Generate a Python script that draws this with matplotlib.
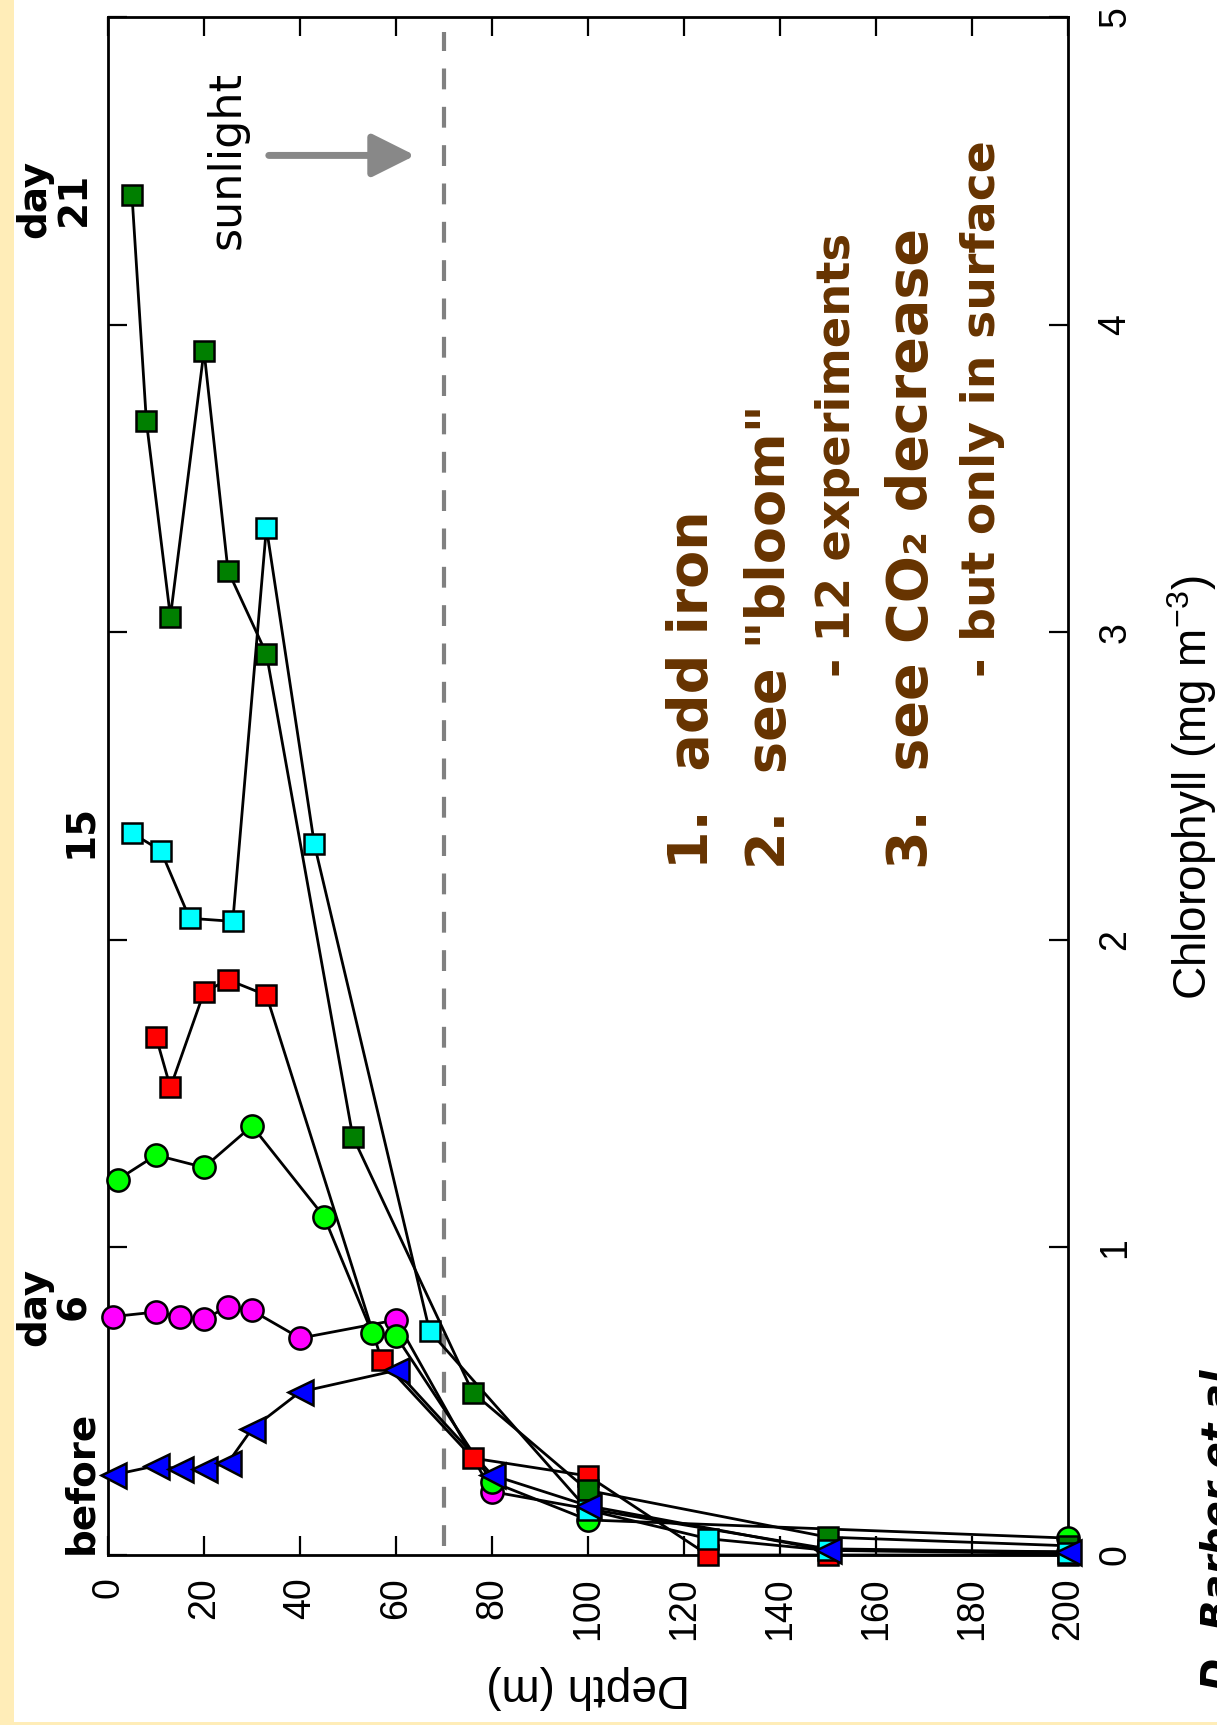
import matplotlib
matplotlib.use("Agg")
import matplotlib.pyplot as plt
from matplotlib.patches import Rectangle

# ── data: depth (m) vs chlorophyll (mg m-3) ──────────────────────────────────
before_depth = [1, 10, 15, 20, 25, 30, 40, 60, 80, 100, 150, 200]
before_chl = [0.26, 0.29, 0.28, 0.28, 0.30, 0.41, 0.53, 0.60, 0.26, 0.16, 0.015, 0.01]

day6_depth = [1, 10, 15, 20, 25, 30, 40, 60, 80, 100, 150, 200]
day6_chl = [0.775, 0.79, 0.775, 0.767, 0.807, 0.795, 0.705, 0.764, 0.206, 0.15, 0.02, 0.01]

day9_depth = [2, 10, 20, 30, 45, 55, 60, 80, 100, 200]
day9_chl = [1.22, 1.30, 1.26, 1.395, 1.10, 0.723, 0.712, 0.238, 0.114, 0.055]

day12_depth = [10, 13, 20, 25, 33, 57, 76, 100, 125, 150, 200]
day12_chl = [1.685, 1.52, 1.83, 1.87, 1.82, 0.634, 0.315, 0.257, 0.0, 0.0, 0.0]

day15_depth = [5, 11, 17, 26, 33, 43, 67, 100, 125, 150, 200]
day15_chl = [2.347, 2.29, 2.07, 2.06, 3.34, 2.31, 0.728, 0.146, 0.053, 0.015, 0.005]

day21_depth = [5, 8, 13, 20, 25, 33, 51, 76, 100, 150, 200]
day21_chl = [4.42, 3.685, 3.05, 3.915, 3.20, 2.93, 1.36, 0.528, 0.21, 0.058, 0.03]

mixed_layer = 70          # dashed line depth
depth_ticks = list(range(0, 201, 20))
chl_ticks = [0, 1, 2, 3, 4, 5]

W, H = 1217, 1725


def fx(x):
    return x / W


def fy(y):
    return 1 - y / H


fig = plt.figure(figsize=(W / 100, H / 100), dpi=100, facecolor="#FFEDB8")
fig.patches.append(Rectangle((fx(14), fy(1722)), 1 - fx(14), fy(0) - fy(1722),
                             transform=fig.transFigure, facecolor="white",
                             edgecolor="none", zorder=-5))

plt.rcParams["mathtext.fontset"] = "custom"
plt.rcParams["mathtext.rm"] = "Liberation Sans"

ax = fig.add_axes([fx(108), fy(1555), fx(1068) - fx(108), fy(17) - fy(1555)])
ax.set_facecolor("none")
ax.set_xlim(0, 200)
ax.set_ylim(0, 5)

# series: (depth, chl, marker, colour, size)
series = [
    (day6_depth, day6_chl, "o", "#FF00FF", 16),
    (day9_depth, day9_chl, "o", "#00FF00", 16),
    (day12_depth, day12_chl, "s", "#FF0000", 14.5),
    (day21_depth, day21_chl, "s", "#007F00", 14.5),
    (day15_depth, day15_chl, "s", "#00FFFF", 14.5),
    (before_depth, before_chl, "<", "#0000FF", 18),
]
for d, c, m, col, ms in series:
    ax.plot(d, c, "-", color="black", lw=2.0, zorder=3, clip_on=False)
for i, (d, c, m, col, ms) in enumerate(series):
    ax.plot(d, c, linestyle="none", marker=m, ms=ms, mfc=col, mec="black",
            mew=1.8, zorder=4 + i, clip_on=False)

ax.plot([mixed_layer, mixed_layer], [0.03, 4.95], color="#808080", lw=3,
        linestyle=(0, (5, 4.2)), zorder=2)

# sunlight arrow
ax.annotate("", xy=(64, 4.55), xytext=(33.5, 4.55),
            arrowprops=dict(arrowstyle="-|>", color="#888888", lw=5,
                            mutation_scale=66, shrinkA=0, shrinkB=0))
ax.text(24.8, 4.535, "sunlight", rotation=90, ha="center", va="center",
        fontsize=32, family="DejaVu Sans")

# axes styling
for s in ax.spines.values():
    s.set_linewidth(2.0)
ax.set_xticks(depth_ticks)
ax.set_yticks(chl_ticks)
ax.tick_params(direction="in", length=14, width=1.6, top=True, bottom=True,
               left=True, right=True, labelleft=False, labelright=True,
               labelbottom=True)
ax.tick_params(axis="x", pad=16)
ax.tick_params(axis="y", pad=21)
for lab in ax.get_xticklabels():
    lab.set_rotation(90)
    lab.set_fontsize(27)
    lab.set_family("Liberation Sans")
for lab in ax.get_yticklabels():
    lab.set_rotation(90)
    lab.set_fontsize(27)
    lab.set_family("Liberation Sans")
    lab.set_verticalalignment("center")

fig.text(fx(588), fy(1675), "Depth (m)", rotation=180, rotation_mode="anchor",
         ha="center", va="baseline", fontsize=33, family="Liberation Sans")
fig.text(fx(1207), fy(788), "Chlorophyll (mg m$^{-3}$)", rotation=90,
         rotation_mode="anchor", ha="center", va="baseline", fontsize=33,
         family="Liberation Sans")

# day labels left of the axis
lab_kw = dict(rotation=90, ha="center", va="center", fontsize=28,
              fontweight="bold", family="DejaVu Sans", linespacing=1.05)
fig.text(fx(81), fy(1482), "before", **lab_kw)
fig.text(fx(54), fy(1307), "day\n6", **lab_kw)
fig.text(fx(80), fy(831), "15", **lab_kw)
fig.text(fx(54), fy(199), "day\n21", **lab_kw)

# brown notes
brown = "#663300"
note_kw = dict(rotation=90, rotation_mode="anchor", ha="left", va="baseline",
               color=brown, fontweight="bold", family="DejaVu Sans")
ax.text(125.0, 2.23, "1.  add iron", fontsize=40, **note_kw)
ax.text(141.0, 2.23, "2.  see \"bloom\"", fontsize=39, **note_kw)
ax.text(154.6, 2.854, "- 12 experiments", fontsize=33.5, **note_kw)
ax.text(170.6, 2.23, "3.  see CO\u2082 decrease", fontsize=40, **note_kw)
ax.text(184.8, 2.854, "- but only in surface", fontsize=34, **note_kw)

fig.text(fx(1230), fy(1690), "D. Barber et al.", rotation=90,
         rotation_mode="anchor", ha="left", va="baseline", fontsize=28,
         fontweight="bold", fontstyle="italic", family="DejaVu Sans")

fig.savefig("out.png", dpi=100, facecolor=fig.get_facecolor())
